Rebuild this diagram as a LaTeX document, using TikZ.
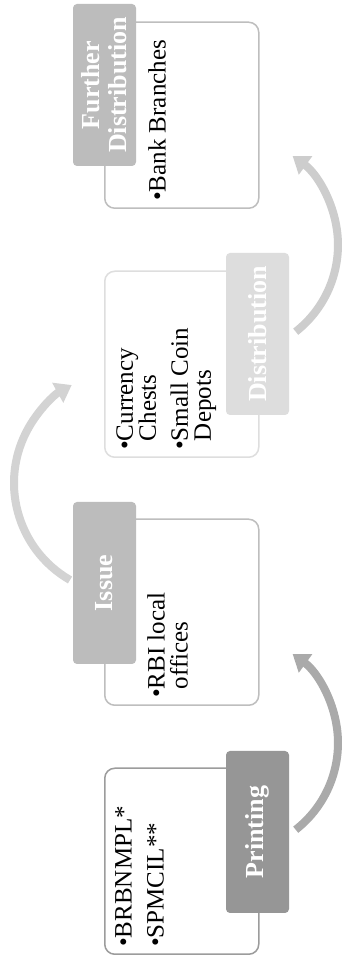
\documentclass[tikz,border=0pt]{standalone}
\usepackage{fontspec}
\setmainfont{Liberation Serif}
\usetikzlibrary{arrows.meta}
\definecolor{bx1}{HTML}{9C9C9C}
\definecolor{bx2}{HTML}{BEBEBE}
\definecolor{bx3}{HTML}{DEDEDE}
\definecolor{bx4}{HTML}{BEBEBE}
\definecolor{tg1}{HTML}{969696}
\definecolor{tg2}{HTML}{BCBCBC}
\definecolor{tg3}{HTML}{DDDDDD}
\definecolor{tg4}{HTML}{BCBCBC}
\definecolor{ar1}{HTML}{AAAAAA}
\definecolor{ar2}{HTML}{D3D3D3}
\definecolor{ar3}{HTML}{CDCDCD}
\begin{document}
\begin{tikzpicture}[x=1pt,y=1pt,
  bodybox/.style={draw=#1, line width=1.5pt, rounded corners=10pt, minimum width=154pt, minimum height=186pt, anchor=south west, inner sep=0pt},
  tagbox/.style={fill=#1, rounded corners=4pt, rotate=90, minimum width=162pt, minimum height=63pt, inner sep=0pt, text=white, font=\fontsize{26}{27}\selectfont\bfseries, align=center},
  bodytext/.style={rotate=90, anchor=north west, inner sep=0pt, align=left, font=\fontsize{25}{23}\selectfont},
  flow/.style={draw=#1, line width=8pt, -{Triangle[width=22pt,length=16pt]}}
]
\useasboundingbox[fill=white] (0,0) rectangle (341,960);
% arrows
\coordinate (a1s) at (295.7,130.3);
\coordinate (a2s) at (70,380);
\coordinate (a3s) at (295.7,628.3);
\draw[flow=ar1] (a1s) arc[start angle=-52, end angle=54, radius=110];
\draw[flow=ar2] (a2s) arc[start angle=240, end angle=119, radius=112];
\draw[flow=ar3] (a3s) arc[start angle=-52, end angle=54, radius=110];
% content boxes
\node[bodybox=bx1] (b1) at (104,5) {};
\node[bodybox=bx2] (b2) at (104,254) {};
\node[bodybox=bx3] (b3) at (104,502) {};
\node[bodybox=bx4] (b4) at (104,751) {};
% tags
\node[tagbox=tg1] (t1) at (257.5,128) {Printing};
\node[tagbox=tg2] (t2) at (104.5,377) {Issue};
\node[tagbox=tg3] (t3) at (257.5,626) {Distribution};
\node[tagbox=tg4] (t4) at (104.5,875) {Further\\Distribution};
% texts
\node[bodytext] (x1) at ([xshift=11pt,yshift=8pt]b1.south west) {•BRBNMPL*\\[9pt]•SPMCIL**};
\node[bodytext] (x2) at ([xshift=43pt,yshift=8pt]b2.south west) {•RBI local\\\hphantom{•}offices};
\node[bodytext] (x3) at ([xshift=12pt,yshift=8pt]b3.south west) {•Currency\\\hphantom{•}Chests\\[9pt]•Small Coin\\\hphantom{•}Depots};
\node[bodytext] (x4) at ([xshift=44pt,yshift=8pt]b4.south west) {•Bank Branches};
\end{tikzpicture}
\end{document}
